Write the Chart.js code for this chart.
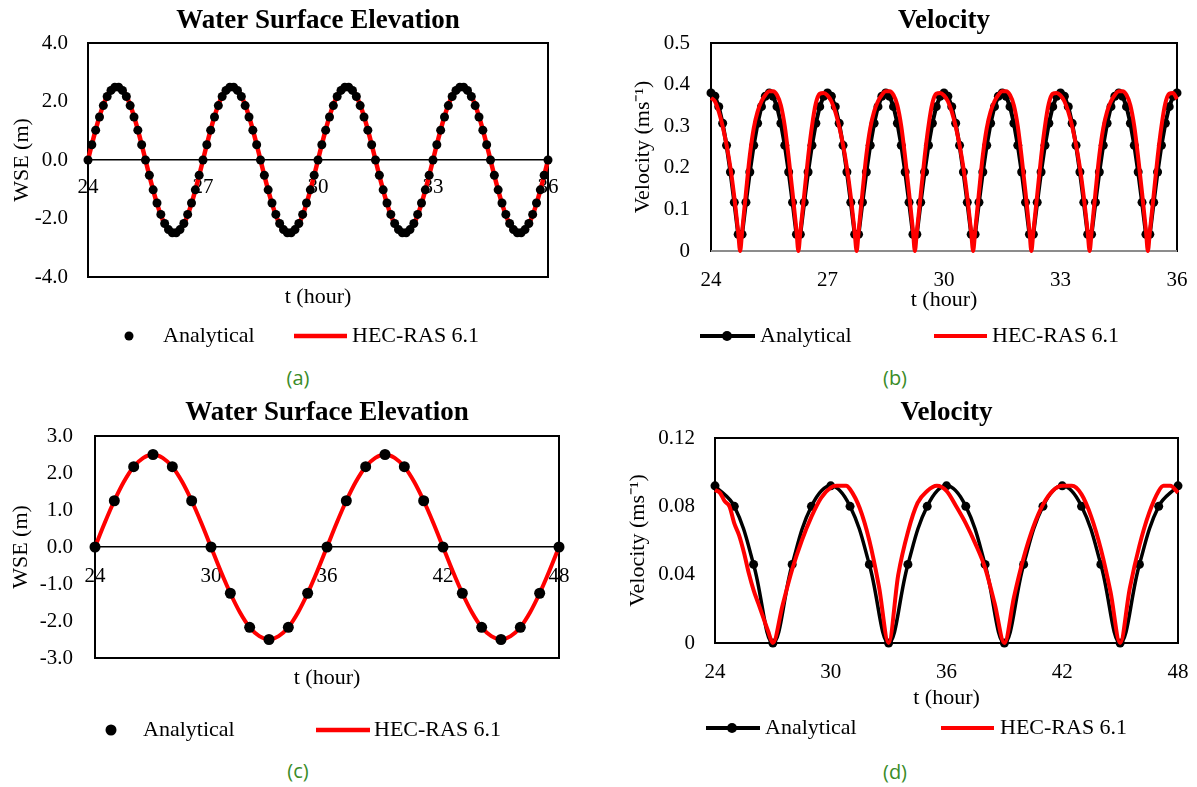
<!DOCTYPE html>
<html><head><meta charset="utf-8">
<script src="https://cdn.jsdelivr.net/npm/chart.js@4.4.0/dist/chart.umd.min.js"></script>
<style>
html,body{margin:0;padding:0;background:#fff;width:1197px;height:787px;overflow:hidden;position:relative}
canvas{position:absolute}
.cap{position:absolute;font-family:"Open Sans",sans-serif;font-size:20px;color:#3a8c28;transform:translate(-50%,-50%);white-space:nowrap}
</style></head><body>
<canvas id="ca" width="600" height="360" style="left:0;top:0"></canvas>
<canvas id="cb" width="597" height="360" style="left:600px;top:0"></canvas>
<canvas id="cc" width="600" height="360" style="left:0;top:393px"></canvas>
<canvas id="cd" width="597" height="360" style="left:600px;top:393px"></canvas>
<div class="cap" style="left:298px;top:377px">(a)</div>
<div class="cap" style="left:895px;top:377px">(b)</div>
<div class="cap" style="left:298px;top:770px">(c)</div>
<div class="cap" style="left:895px;top:771px">(d)</div>
<script>
// ---------- Panel (a): WSE, 24-36 h ----------
const tA = [24,24.1,24.2,24.3,24.4,24.5,24.6,24.7,24.8,24.9,25,25.1,25.2,25.3,25.4,25.5,25.6,25.7,25.8,25.9,26,26.1,26.2,26.3,26.4,26.5,26.6,26.7,26.8,26.9,27,27.1,27.2,27.3,27.4,27.5,27.6,27.7,27.8,27.9,28,28.1,28.2,28.3,28.4,28.5,28.6,28.7,28.8,28.9,29,29.1,29.2,29.3,29.4,29.5,29.6,29.7,29.8,29.9,30,30.1,30.2,30.3,30.4,30.5,30.6,30.7,30.8,30.9,31,31.1,31.2,31.3,31.4,31.5,31.6,31.7,31.8,31.9,32,32.1,32.2,32.3,32.4,32.5,32.6,32.7,32.8,32.9,33,33.1,33.2,33.3,33.4,33.5,33.6,33.7,33.8,33.9,34,34.1,34.2,34.3,34.4,34.5,34.6,34.7,34.8,34.9,35,35.1,35.2,35.3,35.4,35.5,35.6,35.7,35.8,35.9,36];
const wseA = [0,0.52,1.02,1.47,1.86,2.17,2.38,2.49,2.49,2.38,2.17,1.86,1.47,1.02,0.52,0,-0.52,-1.02,-1.47,-1.86,-2.17,-2.38,-2.49,-2.49,-2.38,-2.17,-1.86,-1.47,-1.02,-0.52,
0,0.52,1.02,1.47,1.86,2.17,2.38,2.49,2.49,2.38,2.17,1.86,1.47,1.02,0.52,0,-0.52,-1.02,-1.47,-1.86,-2.17,-2.38,-2.49,-2.49,-2.38,-2.17,-1.86,-1.47,-1.02,-0.52,
0,0.52,1.02,1.47,1.86,2.17,2.38,2.49,2.49,2.38,2.17,1.86,1.47,1.02,0.52,0,-0.52,-1.02,-1.47,-1.86,-2.17,-2.38,-2.49,-2.49,-2.38,-2.17,-1.86,-1.47,-1.02,-0.52,
0,0.52,1.02,1.47,1.86,2.17,2.38,2.49,2.49,2.38,2.17,1.86,1.47,1.02,0.52,0,-0.52,-1.02,-1.47,-1.86,-2.17,-2.38,-2.49,-2.49,-2.38,-2.17,-1.86,-1.47,-1.02,-0.52,0];
const hecA = [0,0.53,1.03,1.49,1.88,2.19,2.41,2.52,2.52,2.41,2.19,1.88,1.49,1.03,0.53,0,-0.53,-1.03,-1.49,-1.88,-2.19,-2.41,-2.52,-2.52,-2.41,-2.19,-1.88,-1.49,-1.03,-0.53,
0,0.53,1.03,1.49,1.88,2.19,2.41,2.52,2.52,2.41,2.19,1.88,1.49,1.03,0.53,0,-0.53,-1.03,-1.49,-1.88,-2.19,-2.41,-2.52,-2.52,-2.41,-2.19,-1.88,-1.49,-1.03,-0.53,
0,0.53,1.03,1.49,1.88,2.19,2.41,2.52,2.52,2.41,2.19,1.88,1.49,1.03,0.53,0,-0.53,-1.03,-1.49,-1.88,-2.19,-2.41,-2.52,-2.52,-2.41,-2.19,-1.88,-1.49,-1.03,-0.53,
0,0.53,1.03,1.49,1.88,2.19,2.41,2.52,2.52,2.41,2.19,1.88,1.49,1.03,0.53,0,-0.53,-1.03,-1.49,-1.88,-2.19,-2.41,-2.52,-2.52,-2.41,-2.19,-1.88,-1.49,-1.03,-0.53,0];
const xTicksA = [24,27,30,33,36];
const yTicksA = [-4,-2,0,2,4];
const yLabelsA = ['-4.0','-2.0','0.0','2.0','4.0'];

// ---------- Panel (b): velocity, 24-36 h ----------
const velB = [0.38,0.372,0.347,0.307,0.254,0.19,0.117,0.04,0.04,0.117,0.19,0.254,0.307,0.347,0.372,
0.38,0.372,0.347,0.307,0.254,0.19,0.117,0.04,0.04,0.117,0.19,0.254,0.307,0.347,0.372,
0.38,0.372,0.347,0.307,0.254,0.19,0.117,0.04,0.04,0.117,0.19,0.254,0.307,0.347,0.372,
0.38,0.372,0.347,0.307,0.254,0.19,0.117,0.04,0.04,0.117,0.19,0.254,0.307,0.347,0.372,
0.38,0.372,0.347,0.307,0.254,0.19,0.117,0.04,0.04,0.117,0.19,0.254,0.307,0.347,0.372,
0.38,0.372,0.347,0.307,0.254,0.19,0.117,0.04,0.04,0.117,0.19,0.254,0.307,0.347,0.372,
0.38,0.372,0.347,0.307,0.254,0.19,0.117,0.04,0.04,0.117,0.19,0.254,0.307,0.347,0.372,
0.38,0.372,0.347,0.307,0.254,0.19,0.117,0.04,0.04,0.117,0.19,0.254,0.307,0.347,0.372,0.38];
const tHecB = [24,24.1,24.2,24.3,24.4,24.5,24.6,24.7,24.75,
24.8,24.9,25,25.1,25.2,25.3,25.4,25.5,25.6,25.7,25.8,25.9,26,26.1,26.2,26.25,
26.3,26.4,26.5,26.6,26.7,26.8,26.9,27,27.1,27.2,27.3,27.4,27.5,27.6,27.7,27.75,
27.8,27.9,28,28.1,28.2,28.3,28.4,28.5,28.6,28.7,28.8,28.9,29,29.1,29.2,29.25,
29.3,29.4,29.5,29.6,29.7,29.8,29.9,30,30.1,30.2,30.3,30.4,30.5,30.6,30.7,30.75,
30.8,30.9,31,31.1,31.2,31.3,31.4,31.5,31.6,31.7,31.8,31.9,32,32.1,32.2,32.25,
32.3,32.4,32.5,32.6,32.7,32.8,32.9,33,33.1,33.2,33.3,33.4,33.5,33.6,33.7,33.75,
33.8,33.9,34,34.1,34.2,34.3,34.4,34.5,34.6,34.7,34.8,34.9,35,35.1,35.2,35.25,
35.3,35.4,35.5,35.6,35.7,35.8,35.9,36];
const hecB = [0.368,0.36,0.335,0.30,0.255,0.20,0.13,0.045,0,
0.045,0.14,0.23,0.295,0.335,0.36,0.375,0.384,0.384,0.375,0.35,0.30,0.225,0.14,0.05,0,
0.045,0.135,0.225,0.30,0.355,0.378,0.38,0.374,0.36,0.335,0.30,0.255,0.20,0.13,0.045,0,
0.045,0.14,0.23,0.295,0.335,0.36,0.375,0.384,0.384,0.375,0.35,0.30,0.225,0.14,0.05,0,
0.045,0.135,0.225,0.30,0.355,0.378,0.38,0.374,0.36,0.335,0.30,0.255,0.20,0.13,0.045,0,
0.045,0.14,0.23,0.295,0.335,0.36,0.375,0.384,0.384,0.375,0.35,0.30,0.225,0.14,0.05,0,
0.045,0.135,0.225,0.30,0.355,0.378,0.38,0.374,0.36,0.335,0.30,0.255,0.20,0.13,0.045,0,
0.045,0.14,0.23,0.295,0.335,0.36,0.375,0.384,0.384,0.375,0.35,0.30,0.225,0.14,0.05,0,
0.045,0.135,0.225,0.30,0.355,0.378,0.38,0.365];
const xTicksB = [24,27,30,33,36];
const yTicksB = [0,0.1,0.2,0.3,0.4,0.5];
const yLabelsB = ['0','0.1','0.2','0.3','0.4','0.5'];

// ---------- Panel (c): WSE, 24-48 h ----------
const tC = [24,25,26,27,28,29,30,31,32,33,34,35,36,37,38,39,40,41,42,43,44,45,46,47,48];
const wseC = [0,1.25,2.17,2.5,2.17,1.25,0,-1.25,-2.17,-2.5,-2.17,-1.25,0,1.25,2.17,2.5,2.17,1.25,0,-1.25,-2.17,-2.5,-2.17,-1.25,0];
const tHecC = [24,24.5,25,25.5,26,26.5,27,27.5,28,28.5,29,29.5,30,30.5,31,31.5,32,32.5,33,33.5,34,34.5,35,35.5,36,36.5,37,37.5,38,38.5,39,39.5,40,40.5,41,41.5,42,42.5,43,43.5,44,44.5,45,45.5,46,46.5,47,47.5,48];
const hecC = [0,0.65,1.25,1.77,2.17,2.41,2.5,2.41,2.17,1.77,1.25,0.65,0,-0.65,-1.25,-1.77,-2.17,-2.41,-2.5,-2.41,-2.17,-1.77,-1.25,-0.65,
0,0.65,1.25,1.77,2.17,2.41,2.5,2.41,2.17,1.77,1.25,0.65,0,-0.65,-1.25,-1.77,-2.17,-2.41,-2.5,-2.41,-2.17,-1.77,-1.25,-0.65,0];
const xTicksC = [24,30,36,42,48];
const yTicksC = [-3,-2,-1,0,1,2,3];
const yLabelsC = ['-3.0','-2.0','-1.0','0.0','1.0','2.0','3.0'];

// ---------- Panel (d): velocity, 24-48 h ----------
const tD = [24,25,26,27,28,29,30,31,32,33,34,35,36,37,38,39,40,41,42,43,44,45,46,47,48];
const velD = [0.092,0.08,0.046,0,0.046,0.08,0.092,0.08,0.046,0,0.046,0.08,0.092,0.08,0.046,0,0.046,0.08,0.092,0.08,0.046,0,0.046,0.08,0.092];
const tHecD = [24,24.25,24.5,24.75,25,25.25,25.5,25.75,26,26.25,26.5,26.75,27,27.5,28,28.5,29,29.5,30,30.3,30.8,31,31.5,32,32.5,33,33.5,34,34.5,35,35.5,36,36.5,37,37.5,38,38.5,39,39.5,40,40.5,41,41.5,42,42.5,43,43.5,44,44.5,45,45.5,46,46.5,47,47.25,47.6,48];
const hecD = [0.0895,0.088,0.083,0.08,0.07,0.063,0.053,0.041,0.031,0.023,0.015,0.007,0,0.022,0.043,0.06,0.074,0.085,0.091,0.092,0.092,0.09,0.079,0.06,0.033,0,0.04,0.065,0.082,0.089,0.092,0.089,0.08,0.07,0.058,0.044,0.023,0,0.027,0.05,0.068,0.081,0.089,0.092,0.092,0.087,0.074,0.055,0.03,0,0.032,0.057,0.076,0.089,0.092,0.092,0.088];
const xTicksD = [24,30,36,42,48];
const yTicksD = [0,0.04,0.08,0.12];
const yLabelsD = ['0','0.04','0.08','0.12'];

// ---------- helpers ----------
const SERIF = '"Liberation Serif","Times New Roman",serif';
Chart.defaults.font.family = SERIF;
const RED = '#ff0000';
const pts = (xs, ys) => xs.map((x, i) => ({x: x, y: ys[i]}));

const frame = {
  id: 'frame',
  beforeDatasetsDraw(chart, args, opts) {
    const {ctx, chartArea: a} = chart;
    ctx.save();
    ctx.lineWidth = 2; ctx.strokeStyle = '#000'; ctx.lineCap = 'square';
    ctx.beginPath();
    ctx.moveTo(a.left, a.bottom); ctx.lineTo(a.left, a.top); ctx.lineTo(a.right, a.top); ctx.lineTo(a.right, a.bottom);
    if (!opts.bottomColor) ctx.lineTo(a.left, a.bottom);
    ctx.stroke();
    if (opts.bottomColor) {
      ctx.strokeStyle = opts.bottomColor; ctx.lineCap = 'butt';
      ctx.beginPath(); ctx.moveTo(a.left, a.bottom); ctx.lineTo(a.right, a.bottom); ctx.stroke();
    }
    ctx.restore();
  }
};
const legendDraw = {
  id: 'legendDraw',
  afterDraw(chart, args, opts) {
    const ctx = chart.ctx; const y = opts.y;
    ctx.save();
    ctx.font = '22px ' + SERIF; ctx.textBaseline = 'middle'; ctx.textAlign = 'left';
    for (const it of opts.items) {
      if (it.line) { ctx.strokeStyle = it.color; ctx.lineWidth = it.lw; ctx.beginPath(); ctx.moveTo(it.line[0], y); ctx.lineTo(it.line[1], y); ctx.stroke(); }
      if (it.dot) { ctx.fillStyle = it.color; ctx.beginPath(); ctx.arc(it.dot, y, it.r, 0, 2 * Math.PI); ctx.fill(); }
      ctx.fillStyle = '#000'; ctx.fillText(it.text, it.tx, y);
    }
    ctx.restore();
  }
};
function yAxis(ticks, labels, min, max, title, pt, gap, width) {
  return {
    type: 'linear', position: 'left', min: min, max: max,
    afterBuildTicks: s => { s.ticks = ticks.map(v => ({value: v})); },
    ticks: {callback: (v, i) => labels[i], font: {family: SERIF, size: 21}, color: '#000', padding: gap},
    grid: {display: false, drawTicks: false}, border: {display: false},
    title: {display: true, text: title, font: {family: SERIF, size: 22}, color: '#000', padding: {top: pt, bottom: 0}},
    afterFit: s => { s.width = width; }
  };
}
function xTicksCfg(ticks, pad) {
  return {callback: (v, i) => String(ticks[i]), font: {family: SERIF, size: 21}, color: '#000', padding: pad, maxRotation: 0, autoSkip: false};
}
function titleCfg(text, top, bottom) {
  return {display: true, text: text, fullSize: false, color: '#000', font: {family: SERIF, size: 27, weight: 'bold'}, padding: {top: top, bottom: bottom}};
}
function axisTitle(h, pb) {
  return {
    type: 'linear', position: 'bottom', min: 0, max: 1, display: true,
    ticks: {display: false}, grid: {display: false, drawTicks: false}, border: {display: false},
    title: {display: true, text: 't (hour)', font: {family: SERIF, size: 22}, color: '#000', padding: {top: 0, bottom: pb}},
    afterFit: s => { s.height = h; s.paddingLeft = 0; s.paddingRight = 0; }
  };
}
const base = {responsive: false, animation: false, devicePixelRatio: 1, events: []};

// ---------- (a) ----------
new Chart(document.getElementById('ca'), {
  type: 'scatter',
  data: {datasets: [
    {label: 'Analytical', data: pts(tA, wseA), xAxisID: 'x', yAxisID: 'y', showLine: false, pointRadius: 4.5, pointBackgroundColor: '#000', pointBorderWidth: 0, order: 0, clip: 10},
    {label: 'HEC-RAS 6.1', data: pts(tA, hecA), xAxisID: 'x', yAxisID: 'y', showLine: true, borderColor: RED, borderWidth: 4.5, pointRadius: 0, cubicInterpolationMode: 'monotone', order: 1, clip: 10}
  ]},
  options: Object.assign({}, base, {
    layout: {padding: {left: 0, right: 52, top: 0, bottom: 47}},
    scales: {
      x: {type: 'linear', position: {y: 0}, min: 24, max: 36,
          afterBuildTicks: s => { s.ticks = xTicksA.map(v => ({value: v})); },
          ticks: xTicksCfg(xTicksA, 15), grid: {display: false, drawTicks: false}, border: {display: true, color: '#000', width: 1.5}},
      xt: axisTitle(36, 2.8),
      y: yAxis(yTicksA, yLabelsA, -4, 4, 'WSE (m)', 8.8, 20, 88)
    },
    plugins: {
      legend: {display: false}, tooltip: {enabled: false},
      title: titleCfg('Water Surface Elevation', 5, 5.6),
      frame: {},
      legendDraw: {y: 336, items: [
        {dot: 129, r: 4.5, color: '#000', text: 'Analytical', tx: 163},
        {line: [294, 347], lw: 4.5, color: RED, text: 'HEC-RAS 6.1', tx: 352}
      ]}
    }
  }),
  plugins: [frame, legendDraw]
});

// ---------- (b) ----------
new Chart(document.getElementById('cb'), {
  type: 'scatter',
  data: {datasets: [
    {label: 'Analytical', data: pts(tA, velB), xAxisID: 'x', yAxisID: 'y', showLine: true, borderColor: '#000', borderWidth: 4, pointRadius: 4.5, pointBackgroundColor: '#000', pointBorderWidth: 0, tension: 0, order: 1, clip: 10},
    {label: 'HEC-RAS 6.1', data: pts(tHecB, hecB), xAxisID: 'x', yAxisID: 'y', showLine: true, borderColor: RED, borderWidth: 4, pointRadius: 0, cubicInterpolationMode: 'monotone', order: 0, clip: 10}
  ]},
  options: Object.assign({}, base, {
    layout: {padding: {left: 0, right: 20, top: 0, bottom: 44}},
    scales: {
      x: {type: 'linear', position: 'bottom', min: 24, max: 36,
          afterBuildTicks: s => { s.ticks = xTicksB.map(v => ({value: v})); },
          ticks: xTicksCfg(xTicksB, 16.4), grid: {display: false, drawTicks: false}, border: {display: false},
          title: {display: true, text: 't (hour)', font: {family: SERIF, size: 22}, color: '#000', padding: {top: 0, bottom: 2.8}},
          afterFit: s => { s.height = 65; s.paddingLeft = 0; s.paddingRight = 0; }},
      y: yAxis(yTicksB, yLabelsB, 0, 0.5, 'Velocity (ms\u207B\u00B9)', 29.8, 21, 111)
    },
    plugins: {
      legend: {display: false}, tooltip: {enabled: false},
      title: titleCfg('Velocity', 5, 5.6),
      frame: {bottomColor: '#8c8c8c'},
      legendDraw: {y: 336, items: [
        {line: [100, 155], lw: 4, dot: 127, r: 5, color: '#000', text: 'Analytical', tx: 160},
        {line: [334, 387], lw: 4, color: RED, text: 'HEC-RAS 6.1', tx: 392}
      ]}
    }
  }),
  plugins: [frame, legendDraw]
});

// ---------- (c) ----------
new Chart(document.getElementById('cc'), {
  type: 'scatter',
  data: {datasets: [
    {label: 'Analytical', data: pts(tC, wseC), xAxisID: 'x', yAxisID: 'y', showLine: false, pointRadius: 5.5, pointBackgroundColor: '#000', pointBorderWidth: 0, order: 0, clip: 10},
    {label: 'HEC-RAS 6.1', data: pts(tHecC, hecC), xAxisID: 'x', yAxisID: 'y', showLine: true, borderColor: RED, borderWidth: 4, pointRadius: 0, cubicInterpolationMode: 'monotone', order: 1, clip: 10}
  ]},
  options: Object.assign({}, base, {
    layout: {padding: {left: 0, right: 41, top: 0, bottom: 59}},
    scales: {
      x: {type: 'linear', position: {y: 0}, min: 24, max: 48,
          afterBuildTicks: s => { s.ticks = xTicksC.map(v => ({value: v})); },
          ticks: xTicksCfg(xTicksC, 16.7), grid: {display: false, drawTicks: false}, border: {display: true, color: '#000', width: 1.5}},
      xt: axisTitle(36, 2.8),
      y: yAxis(yTicksC, yLabelsC, -3, 3, 'WSE (m)', 7.8, 22, 95)
    },
    plugins: {
      legend: {display: false}, tooltip: {enabled: false},
      title: titleCfg('Water Surface Elevation', 4, 6.6),
      frame: {},
      legendDraw: {y: 337, items: [
        {dot: 111, r: 5.5, color: '#000', text: 'Analytical', tx: 143},
        {line: [316, 370], lw: 4.5, color: RED, text: 'HEC-RAS 6.1', tx: 374}
      ]}
    }
  }),
  plugins: [frame, legendDraw]
});

// ---------- (d) ----------
new Chart(document.getElementById('cd'), {
  type: 'scatter',
  data: {datasets: [
    {label: 'Analytical', data: pts(tD, velD), xAxisID: 'x', yAxisID: 'y', showLine: true, borderColor: '#000', borderWidth: 3.5, pointRadius: 4.5, pointBackgroundColor: '#000', pointBorderWidth: 0, tension: 0.4, order: 1, clip: 10},
    {label: 'HEC-RAS 6.1', data: pts(tHecD, hecD), xAxisID: 'x', yAxisID: 'y', showLine: true, borderColor: RED, borderWidth: 4, pointRadius: 0, cubicInterpolationMode: 'monotone', order: 0, clip: 10}
  ]},
  options: Object.assign({}, base, {
    layout: {padding: {left: 0, right: 19, top: 0, bottom: 39}},
    scales: {
      x: {type: 'linear', position: 'bottom', min: 24, max: 48,
          afterBuildTicks: s => { s.ticks = xTicksD.map(v => ({value: v})); },
          ticks: xTicksCfg(xTicksD, 17), grid: {display: false, drawTicks: false}, border: {display: false},
          title: {display: true, text: 't (hour)', font: {family: SERIF, size: 22}, color: '#000', padding: {top: 0, bottom: 2.8}},
          afterFit: s => { s.height = 71; s.paddingLeft = 0; s.paddingRight = 0; }},
      y: yAxis(yTicksD, yLabelsD, 0, 0.12, 'Velocity (ms\u207B\u00B9)', 24.8, 20, 115)
    },
    plugins: {
      legend: {display: false}, tooltip: {enabled: false},
      title: titleCfg('Velocity', 4, 8.6),
      frame: {},
      legendDraw: {y: 335, items: [
        {line: [106, 160], lw: 4, dot: 132, r: 5, color: '#000', text: 'Analytical', tx: 165},
        {line: [341, 394], lw: 4, color: RED, text: 'HEC-RAS 6.1', tx: 400}
      ]}
    }
  }),
  plugins: [frame, legendDraw]
});
</script>
</body></html>
